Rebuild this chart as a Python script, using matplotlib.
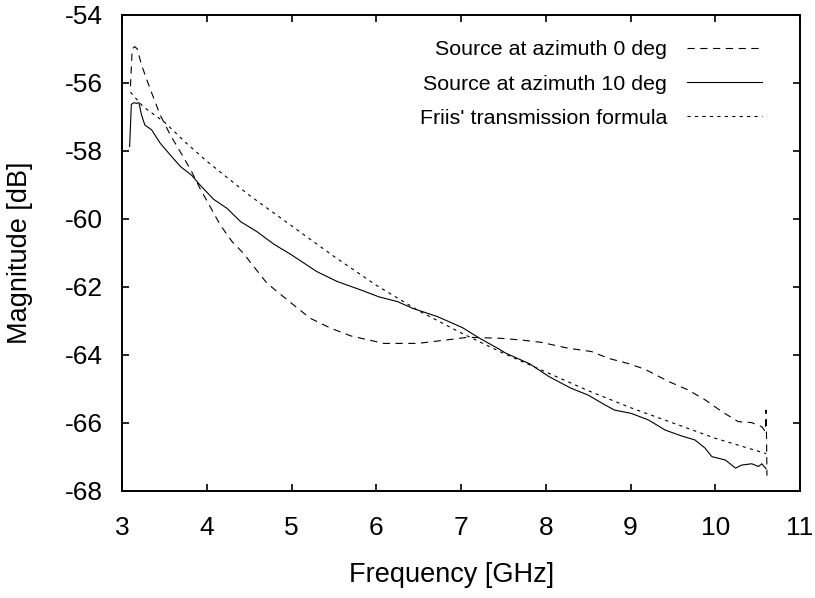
import matplotlib
matplotlib.use("Agg")
import matplotlib.pyplot as plt

# values
freq_0deg = [3.10, 3.12, 3.15, 3.18, 3.23, 3.33, 3.45, 3.57, 3.71, 3.82, 3.92, 4.04,
             4.16, 4.30, 4.44, 4.51, 4.71, 4.95, 5.22, 5.46, 5.70, 6.09, 6.49, 6.76,
             7.08, 7.47, 7.71, 7.95, 8.26, 8.54, 8.74, 8.97, 9.17, 9.45, 9.68, 9.88,
             10.08, 10.27, 10.43, 10.55, 10.59, 10.60, 10.605, 10.61]
mag_0deg = [-56.1, -55.0, -54.93, -55.0, -55.47, -56.16, -56.94, -57.53, -58.12, -58.6, -59.1, -59.64,
            -60.18, -60.67, -61.03, -61.26, -61.89, -62.38, -62.92, -63.21, -63.44, -63.66, -63.66, -63.58,
            -63.48, -63.51, -63.56, -63.63, -63.8, -63.9, -64.1, -64.25, -64.42, -64.78, -65.03, -65.32,
            -65.67, -65.96, -65.99, -66.11, -66.25, -65.62, -66.4, -67.55]

freq_10deg = [3.09, 3.11, 3.14, 3.17, 3.20, 3.23, 3.27, 3.35, 3.45, 3.57, 3.69, 3.82,
              3.92, 4.08, 4.24, 4.40, 4.59, 4.79, 4.99, 5.30, 5.54, 5.82, 6.03, 6.25,
              6.43, 6.72, 7.02, 7.22, 7.43, 7.53, 7.81, 8.04, 8.30, 8.50, 8.70, 8.81,
              9.01, 9.21, 9.41, 9.60, 9.76, 9.88, 9.96, 10.12, 10.24, 10.31, 10.43, 10.51,
              10.55, 10.60]
mag_10deg = [-57.87, -56.63, -56.58, -56.6, -56.58, -56.94, -57.24, -57.38, -57.77, -58.12, -58.46, -58.71,
             -59.0, -59.42, -59.69, -60.08, -60.37, -60.74, -61.04, -61.55, -61.84, -62.09, -62.29, -62.43,
             -62.63, -62.87, -63.2, -63.51, -63.8, -63.95, -64.26, -64.64, -64.98, -65.18, -65.47, -65.62,
             -65.72, -65.91, -66.21, -66.38, -66.5, -66.74, -66.99, -67.09, -67.33, -67.24, -67.2, -67.28,
             -67.2, -67.35]

freq_friis = [3.1, 3.25, 3.5, 3.75, 4.0, 4.5, 5.0, 5.5, 6.0, 6.5, 7.0, 7.5, 8.0, 8.5, 9.0, 9.5, 10.0, 10.6]
mag_friis = [-56.27, -56.7, -57.15, -57.75, -58.3, -59.3, -60.2, -61.1, -61.95, -62.7, -63.35, -63.95,
             -64.5, -65.05, -65.55, -66.0, -66.45, -66.9]

x_ticks = [3, 4, 5, 6, 7, 8, 9, 10, 11]
y_ticks = [-68, -66, -64, -62, -60, -58, -56, -54]

plt.rcParams['font.family'] = ['Liberation Sans', 'DejaVu Sans']
plt.rcParams['axes.unicode_minus'] = False

fig = plt.figure(figsize=(8.15, 5.98), dpi=100)
ax = fig.add_axes([0.1497, 0.179, 0.8319, 0.796])

ax.plot(freq_0deg, mag_0deg, color='black', lw=0.8, linestyle=(0, (6.5, 5)),
        label='Source at azimuth 0 deg')
ax.plot(freq_10deg, mag_10deg, color='black', lw=0.8, label='Source at azimuth 10 deg')
ax.plot(freq_friis, mag_friis, color='black', lw=0.8, linestyle=(0, (2.9, 3.8)),
        label="Friis' transmission formula")

ax.set_xlim(3, 11)
ax.set_ylim(-68, -54)
ax.set_xticks(x_ticks)
ax.set_yticks(y_ticks)
ax.tick_params(direction='in', length=4.8, width=1.2, top=True, right=True, labelsize=19)
ax.tick_params(axis='x', pad=18)
ax.tick_params(axis='y', pad=13.5)
for side in ax.spines.values():
    side.set_linewidth(1.4)

ax.set_xlabel('Frequency [GHz]', fontsize=19.5)
ax.set_ylabel('Magnitude [dB]', fontsize=19.5)
ax.xaxis.set_label_coords(0.486, -0.150)
ax.yaxis.set_label_coords(-0.131, 0.5)

ax.legend(loc='upper right', bbox_to_anchor=(0.944, 0.947), frameon=False,
          markerfirst=False, fontsize=15.4, handlelength=3.5, handletextpad=0.93,
          labelspacing=0.72, borderpad=0, borderaxespad=0)

fig.savefig('out.png', dpi=100)
